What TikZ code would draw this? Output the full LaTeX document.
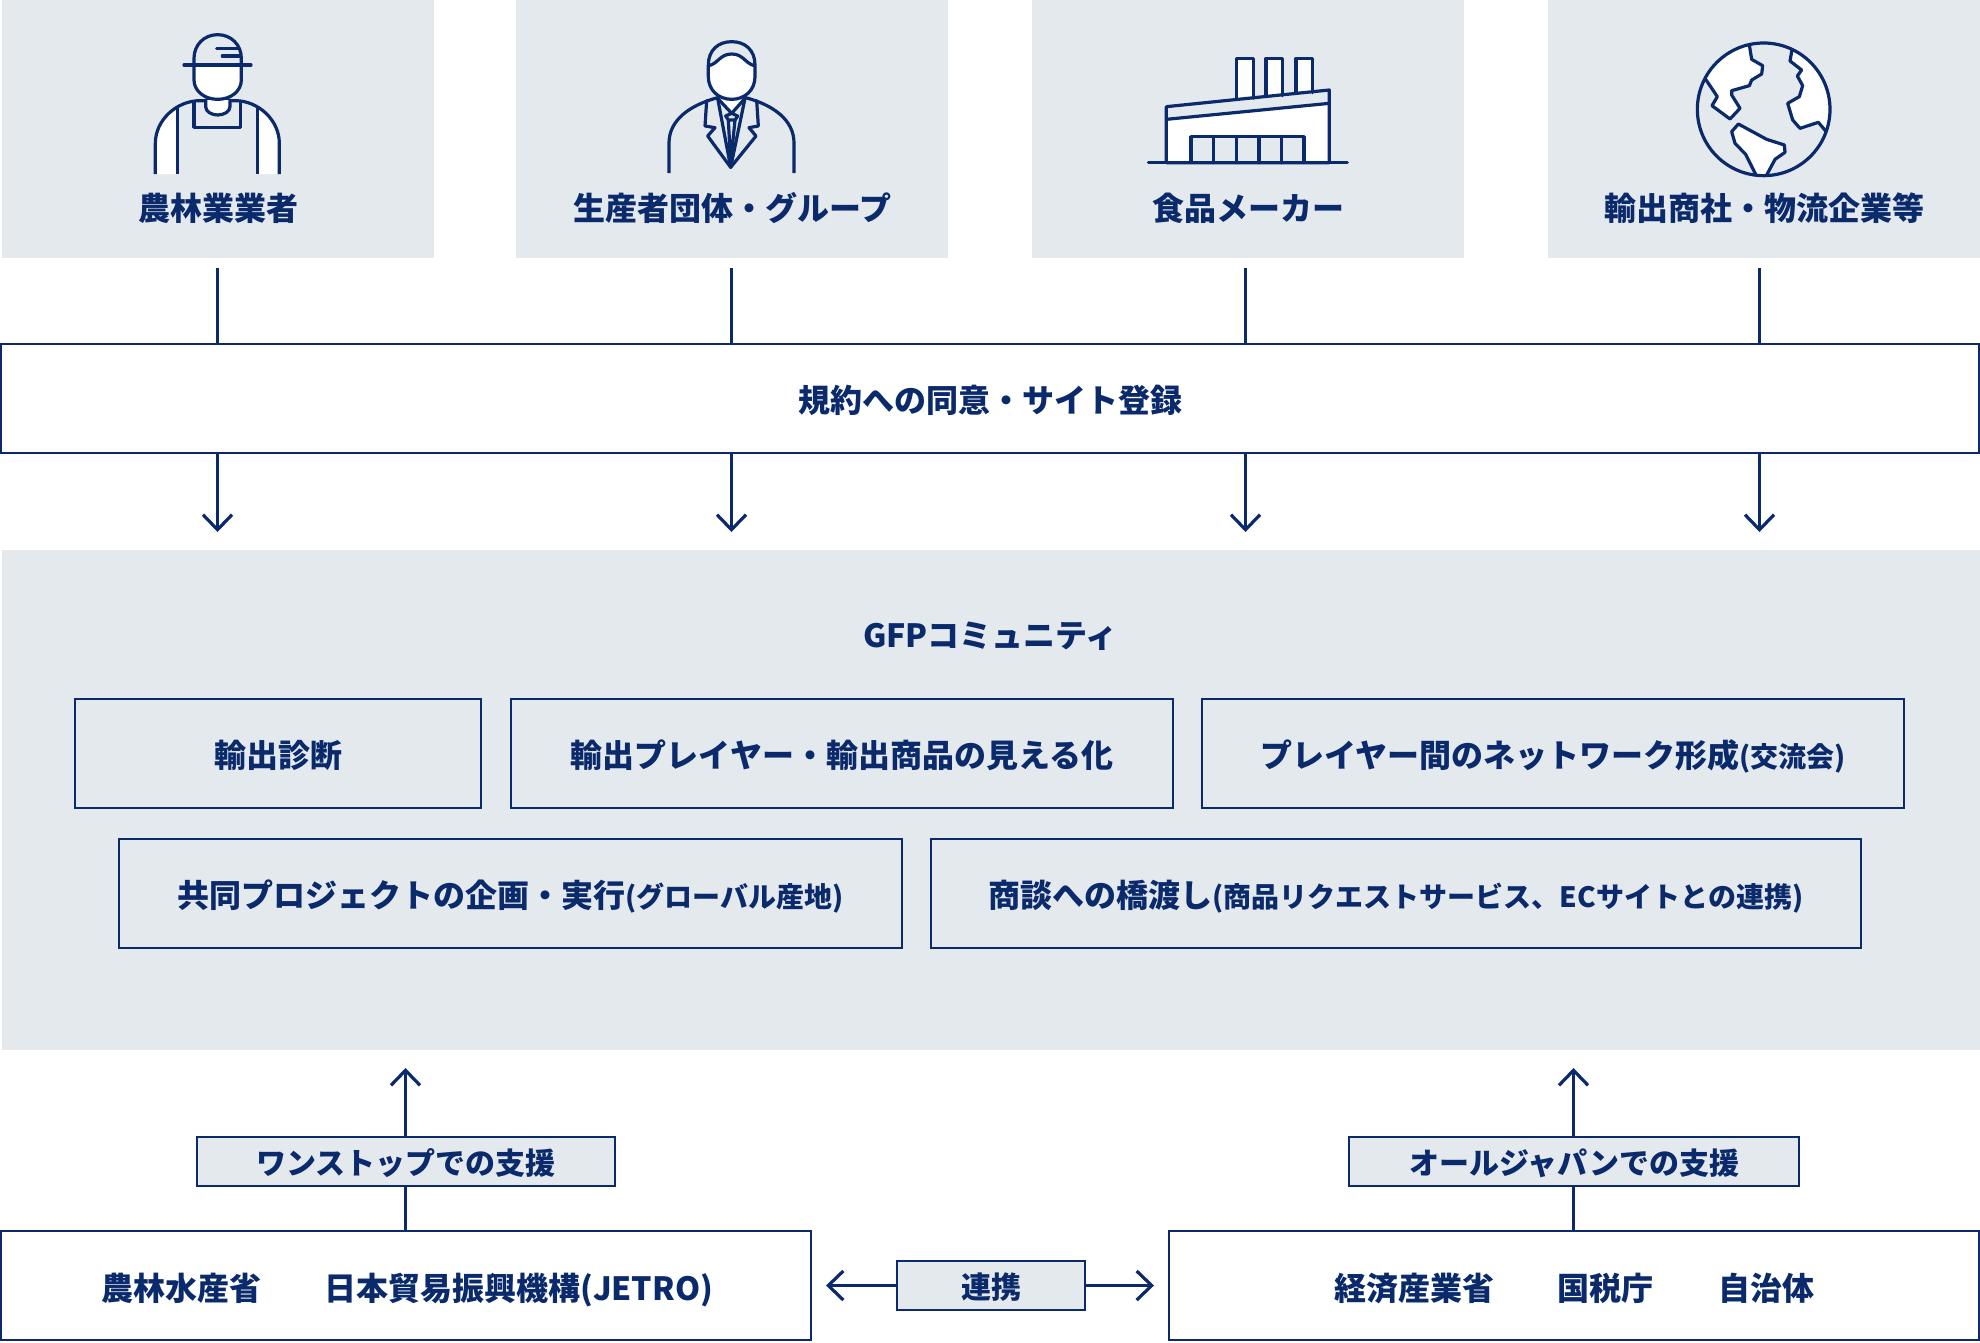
\documentclass[tikz,border=0pt]{standalone}
\usepackage{fontspec}
\setmainfont{Noto Sans CJK JP}
\usetikzlibrary{arrows.meta}
\definecolor{navy}{HTML}{0A2A6B}
\definecolor{pale}{HTML}{E4E9EE}
\newcommand{\smtxt}{\fontsize{28}{28}\selectfont}
\tikzset{
  txt/.style={text=navy,font=\fontsize{32}{32}\selectfont\bfseries,inner sep=0pt,outer sep=0pt,text height=32pt,text depth=4pt},
  labeltxt/.style={txt,font=\fontsize{30}{30}\selectfont\bfseries,text height=30pt,text depth=4pt},
  panel/.style={fill=pale,draw=none,inner sep=0pt,outer sep=0pt},
  framebox/.style={draw=navy,line width=2.2pt,inner sep=0pt,outer sep=0pt,txt},
  whitebox/.style={framebox,fill=white},
  palebox/.style={framebox,fill=pale},
  conn/.style={draw=navy,line width=3pt},
  arrowline/.style={conn,-{Straight Barb[length=15pt,width=29pt,line width=3.2pt]}},
  icon/.style={draw=navy,line width=3.2pt,line join=round,line cap=round},
  zoomunits/.style={x=0.33333pt,y=-0.33333pt},
}
\begin{document}
\begin{tikzpicture}[x=1pt,y=-1pt]
\useasboundingbox (0,0) rectangle (1980,1342);
% top panels
\node[panel,minimum width=432pt,minimum height=258pt] (top1) at (218,129) {};
\node[panel,minimum width=432pt,minimum height=258pt] (top2) at (732,129) {};
\node[panel,minimum width=432pt,minimum height=258pt] (top3) at (1248,129) {};
\node[panel,minimum width=432pt,minimum height=258pt] (top4) at (1764,129) {};
\node[txt] (t1) at (218,206) {農林業業者};
\node[txt] (t2) at (732.5,206) {生産者団体・グループ};
\node[txt] (t3) at (1248,206) {食品メーカー};
\node[txt] (t4) at (1764,206) {輸出商社・物流企業等};
% rule box
\node[whitebox,minimum width=1978pt,minimum height=109pt] (rule) at (990,398.5) {規約への同意・サイト登録};
% main panel
\node[panel,minimum width=1978pt,minimum height=500pt] (main) at (991,800) {};
\node[txt] (gfp) at (990.5,633) {GFPコミュニティ};
\node[palebox,minimum width=406pt,minimum height=109pt] (i1) at (278,753.5) {輸出診断};
\node[palebox,minimum width=662pt,minimum height=109pt] (i2) at (842,753.5) {輸出プレイヤー・輸出商品の見える化};
\node[palebox,minimum width=702pt,minimum height=109pt] (i3) at (1553,753.5) {プレイヤー間のネットワーク形成{\smtxt(交流会)}};
\node[palebox,minimum width=783pt,minimum height=109pt] (j1) at (510.5,893.5) {共同プロジェクトの企画・実行{\smtxt(グローバル産地)}};
\node[palebox,minimum width=930pt,minimum height=109pt] (j2) at (1396,893.5) {商談への橋渡し{\smtxt(商品リクエストサービス、ECサイトとの連携)}};
% lower boxes
\node[whitebox,minimum width=810pt,minimum height=109pt] (lbox) at (406,1285.5) {};
\node[whitebox,minimum width=810pt,minimum height=109pt] (rbox) at (1574,1285.5) {};
\node[txt] (l1) at (181,1286) {農林水産省};
\node[txt] (l2) at (519,1286) {日本貿易振興機構(JETRO)};
\node[txt] (r1) at (1414,1286) {経済産業省};
\node[txt] (r2) at (1605.5,1286) {国税庁};
\node[txt] (r3) at (1766,1286) {自治体};
\node[palebox,labeltxt,minimum width=418pt,minimum height=49pt] (sup1) at (406,1161.5) {ワンストップでの支援};
\node[palebox,labeltxt,minimum width=450pt,minimum height=49pt] (sup2) at (1574,1161.5) {オールジャパンでの支援};
\node[palebox,labeltxt,minimum width=188pt,minimum height=49pt] (link) at (991,1285.5) {連携};
% connector ends
\foreach \n/\x in {1/217.5,2/731.5,3/1245.5,4/1759.5}{
  \coordinate (a\n) at (\x,268);
  \coordinate (b\n) at (\x,532);
  \draw[conn] (a\n) -- (a\n |- rule.north);
  \draw[arrowline] (b\n |- rule.south) -- (b\n);
}
\coordinate (ua) at (405.5,1068);
\coordinate (ub) at (1573.5,1068);
\coordinate (ll) at (826,1285.5);
\coordinate (lr) at (1154,1285.5);
\draw[arrowline] (ua |- sup1.north) -- (ua);
\draw[conn] (ua |- sup1.south) -- (ua |- lbox.north);
\draw[arrowline] (ub |- sup2.north) -- (ub);
\draw[conn] (ub |- sup2.south) -- (ub |- rbox.north);
\draw[arrowline] (link.west) -- (ll);
\draw[arrowline] (link.east) -- (lr);
% icon 1: farmer
\begin{scope}[shift={(0,0)},zoomunits]
  \fill[white] (466,522) -- (466,430) .. controls (466,360) and (530,302) .. (600,302) -- (705,302) .. controls (775,302) and (838,360) .. (838,430) -- (838,522) -- cycle;
  \fill[pale] (532,270) rectangle (773,522);
  \draw[icon,line cap=butt] (466,522) -- (466,430) .. controls (466,360) and (530,302) .. (600,302) -- (705,302) .. controls (775,302) and (838,360) .. (838,430) -- (838,522);
  \draw[icon,line cap=butt] (532,325) -- (532,522);
  \draw[icon,line cap=butt] (773,325) -- (773,522);
  \draw[icon] (582,305) -- (582,382) -- (722,382) -- (722,305);
  \fill[white] (617,300) -- (617,320) .. controls (617,335) and (635,345) .. (653,345) .. controls (671,345) and (690,335) .. (690,320) -- (690,300) -- cycle;
  \draw[icon] (617,300) -- (617,320) .. controls (617,335) and (635,345) .. (653,345) .. controls (671,345) and (690,335) .. (690,320) -- (690,300);
  \fill[pale] (582,175) .. controls (582,135) and (612,104) .. (653,104) .. controls (694,104) and (724,135) .. (724,175) -- (724,195) -- (582,195) -- cycle;
  \fill[white] (582,195) -- (582,240) .. controls (582,272) and (612,298) .. (653,298) .. controls (694,298) and (724,272) .. (724,240) -- (724,195) -- cycle;
  \draw[icon] (582,240) -- (582,175) .. controls (582,135) and (612,104) .. (653,104) .. controls (694,104) and (724,135) .. (724,175) -- (724,240) .. controls (724,272) and (694,298) .. (653,298) .. controls (612,298) and (582,272) .. (582,240) -- cycle;
  \draw[icon] (552,195) -- (753,195);
  \draw[icon] (650,146) -- (718,146);
  \draw[icon] (667,168) -- (718,168);
\end{scope}
% icon 2: suit
\begin{scope}[shift={(680,30)},zoomunits]
  \draw[icon,line cap=butt] (-33,429) -- (-33,339) .. controls (-33,270) and (30,225) .. (113,203);
  \draw[icon,line cap=butt] (342,429) -- (342,339) .. controls (342,270) and (280,225) .. (197,203);
  \fill[white] (113,205) -- (155,250) -- (195,205) -- cycle;
  \draw[icon] (80,212) -- (75,288) -- (105,293) -- (83,318) -- (152,412) -- (228,318) -- (207,293) -- (235,288) -- (230,212);
  \draw[icon] (113,205) -- (152,412) -- (195,205);
  \draw[icon] (113,205) -- (155,250) -- (195,205);
  \draw[icon] (137,258) -- (155,250) -- (173,258) -- (165,270) -- (145,270) -- cycle;
  \draw[icon] (145,270) -- (152,400) -- (165,270);
  \fill[white] (87,107) .. controls (115,100) and (120,72) .. (155,72) .. controls (190,72) and (195,100) .. (223,107) -- (225,140) .. controls (225,180) and (195,208) .. (155,208) .. controls (115,208) and (85,180) .. (85,140) -- cycle;
  \draw[icon] (85,105) .. controls (85,60) and (115,35) .. (155,35) .. controls (195,35) and (225,60) .. (225,105) -- (225,140) .. controls (225,180) and (195,208) .. (155,208) .. controls (115,208) and (85,180) .. (85,140) -- cycle;
  \draw[icon] (87,107) .. controls (115,100) and (120,72) .. (155,72) .. controls (190,72) and (195,100) .. (223,107);
\end{scope}
% icon 3: factory
\begin{scope}[shift={(1030,0)},zoomunits]
  \foreach \xa/\xb/\yb in {620/670/295,708/758/287,798/848/278}{
    \filldraw[icon,fill=white] (\xa,\yb) -- (\xa,175) -- (\xb,175) -- (\xb,\yb);
  }
  \filldraw[icon,fill=white] (409,358) -- (898,310) -- (898,488) -- (409,488) -- cycle;
  \draw[icon] (409,358) -- (409,320) -- (898,270) -- (898,310);
  \filldraw[icon,fill=pale] (483,488) -- (483,410) -- (822,410) -- (822,488) -- cycle;
  \foreach \xa in {551,619,687,755}{\draw[icon] (\xa,410) -- (\xa,488);}
  \draw[icon] (355,488) -- (952,488);
\end{scope}
% icon 4: globe
\begin{scope}[shift={(1540,0)},zoomunits]
  \begin{scope}
    \clip (671,328) circle (199);
    \filldraw[icon,fill=white] (625,100) -- (628,135) -- (635,178) -- (668,197) -- (665,222) -- (635,240) -- (628,257) -- (575,272) -- (575,285) -- (600,325) -- (570,357) -- (516,317) -- (532,290) -- (497,238) -- (450,180) -- (550,80) -- cycle;
    \filldraw[icon,fill=white] (770,100) -- (755,155) -- (750,183) -- (785,210) -- (772,228) -- (788,257) -- (778,290) -- (743,310) -- (758,360) -- (780,385) -- (835,367) -- (857,393) -- (920,420) -- (950,200) -- cycle;
    \filldraw[icon,fill=white] (595,372) -- (575,395) -- (585,430) -- (617,463) -- (648,525) -- (655,570) -- (680,570) -- (680,525) -- (705,478) -- (735,457) -- (733,435) -- (680,418) -- cycle;
  \end{scope}
  \draw[icon] (671,328) circle (199);
\end{scope}
\end{tikzpicture}
\end{document}
